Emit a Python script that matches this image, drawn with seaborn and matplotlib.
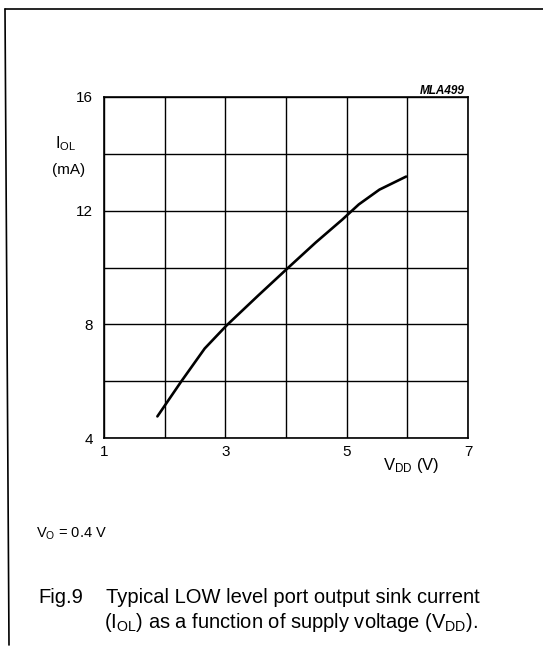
import matplotlib
matplotlib.use("Agg")
import matplotlib.pyplot as plt
import seaborn as sns
import pandas as pd
from matplotlib.lines import Line2D

# Data
vdd = [1.88, 2.27, 2.66, 3.02, 3.54, 4.04, 4.49, 4.93, 5.20, 5.54, 5.98]
iol = [4.76, 5.98, 7.15, 7.96, 9.01, 10.0, 10.88, 11.69, 12.22, 12.74, 13.2]

x_ticks = [1, 3, 5, 7]
y_ticks = [4, 8, 12, 16]
x_grid = [1, 2, 3, 4, 5, 6, 7]
y_grid = [4, 6, 8, 10, 12, 14, 16]

sns.set_style("white")
plt.rcParams['font.family'] = ['Liberation Sans', 'DejaVu Sans']
plt.rcParams['mathtext.fontset'] = 'custom'
plt.rcParams['mathtext.rm'] = 'Liberation Sans'
plt.rcParams['mathtext.it'] = 'Liberation Sans:italic'
plt.rcParams['text.color'] = 'black'
plt.rcParams['axes.labelcolor'] = 'black'
plt.rcParams['xtick.color'] = 'black'
plt.rcParams['ytick.color'] = 'black'

df = pd.DataFrame({"VDD": vdd, "IOL": iol})

W, H = 543, 651
fig = plt.figure(figsize=(W / 100, H / 100), dpi=100)
L, R, T, B = 104, 468, 97, 438
ax = fig.add_axes([L / W, 1 - B / H, (R - L) / W, (B - T) / H])

for xv in x_grid:
    ax.axvline(xv, color="black", lw=1.0, zorder=1)
for yv in y_grid:
    ax.axhline(yv, color="black", lw=1.0, zorder=1)

sns.lineplot(data=df, x="VDD", y="IOL", ax=ax, color="black", lw=1.9, zorder=3)

ax.set_xlim(1, 7)
ax.set_ylim(4, 16)
ax.set_xticks(x_ticks)
ax.set_yticks(y_ticks)
ax.set_xlabel("")
ax.set_ylabel("")
ax.tick_params(axis="both", length=0, labelsize=11, colors="black")
ax.tick_params(axis="x", pad=5)
ax.tick_params(axis="y", pad=8)
for s in ax.spines.values():
    s.set_color("black")
    s.set_linewidth(1.2)


def ftext(x, y, s, **kw):
    fig.text(x / W, 1 - y / H, s, color="black", **kw)


ftext(55, 148, r"I$_{\rm OL}$", fontsize=11.5, va="baseline", ha="left")
ftext(52, 174, "(mA)", fontsize=11, va="baseline", ha="left")
ftext(383, 470, r"V$_{\rm DD}$ (V)", fontsize=12, va="baseline", ha="left")
ftext(465, 94, "MLA499", fontsize=8.5, style="italic", weight="bold",
      ha="right", va="baseline")
ftext(36, 538, r"V$_{\rm O}$ = 0.4 V", fontsize=10.5, va="baseline", ha="left")
cap_fs = 14.5
ftext(38, 603, "Fig.9", fontsize=cap_fs, va="baseline", ha="left")
ftext(106, 603, "Typical LOW level port output sink current",
      fontsize=cap_fs, va="baseline", ha="left")
ftext(104, 628, r"(I$_{\rm OL}$) as a function of supply voltage (V$_{\rm DD}$).",
      fontsize=cap_fs, va="baseline", ha="left")

# page frame
fig.add_artist(Line2D([5 / W, 1], [1 - 9 / H, 1 - 9 / H], color="black", lw=1.2,
                      transform=fig.transFigure))
fig.add_artist(Line2D([5 / W, 9 / W], [1 - 9 / H, 1 - 645 / H], color="black", lw=1.2,
                      transform=fig.transFigure))

fig.savefig("out.png", dpi=100)
